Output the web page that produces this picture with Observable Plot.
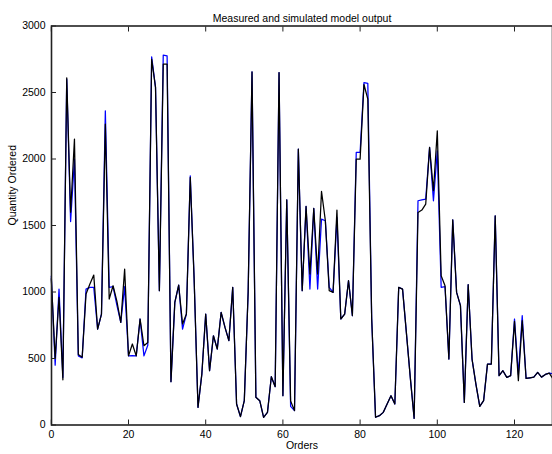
<!DOCTYPE html>
<html>
<head>
<meta charset="utf-8">
<script src="https://cdn.jsdelivr.net/npm/d3@7"></script>
<script src="https://cdn.jsdelivr.net/npm/@observablehq/plot@0.6"></script>
<style>
  html, body { margin: 0; padding: 0; background: #fff; }
  #chart { width: 552px; height: 454px; overflow: hidden; }
  svg { display: block; }
</style>
</head>
<body>
<div id="chart"></div>
<script>
const title = "Measured and simulated model output";
const xLabel = "Orders";
const yLabel = "Quantity Ordered";
const xTicks = [0, 20, 40, 60, 80, 100, 120];
const yTicks = [0, 500, 1000, 1500, 2000, 2500, 3000];

// measured output (black)
const measured = [
  1100, 500, 960, 340, 2610, 1600, 2150, 530, 510, 985,
  1060, 1127, 721, 834, 2262, 947, 1047, 930, 771, 1172,
  520, 609, 520, 797, 596, 621, 2750, 2538, 1010, 2713,
  2713, 326, 922, 1052, 759, 834, 1861, 1100, 133, 383,
  834, 408, 671, 571, 847, 734, 634, 1035, 158, 63,
  183, 1000, 2655, 208, 183, 58, 95, 363, 288, 2650,
  220, 1693, 180, 108, 2074, 1010, 1643, 1135, 1628, 1135,
  1756, 1536, 1010, 997, 1616, 797, 834, 1085, 822, 1999,
  1999, 2560, 2450, 800, 58, 70, 95, 158, 220, 158,
  1035, 1022, 691, 358, 50, 1598, 1616, 1661, 2087, 1761,
  2212, 1122, 1047, 496, 1543, 997, 897, 170, 1055, 496,
  308, 140, 183, 458, 458, 1573, 371, 408, 358, 371,
  780, 333, 784, 350, 355, 360, 395, 360, 380, 390,
  345
];

// simulated model output (blue)
const simulated = [
  1120, 450, 1022, 358, 2600, 1530, 2000, 520, 505, 1022,
  1035, 1035, 721, 834, 2362, 1035, 1040, 900, 771, 1040,
  520, 521, 520, 797, 520, 600, 2768, 2538, 1010, 2781,
  2776, 326, 922, 1052, 721, 834, 1874, 1100, 133, 383,
  834, 408, 671, 571, 847, 734, 634, 1035, 158, 63,
  183, 1000, 2655, 208, 183, 58, 95, 363, 288, 2650,
  220, 1693, 140, 108, 2074, 1010, 1643, 1022, 1628, 1022,
  1548, 1536, 1035, 997, 1560, 797, 834, 1085, 822, 2049,
  2049, 2575, 2568, 800, 58, 70, 95, 158, 220, 158,
  1035, 1022, 691, 358, 50, 1686, 1693, 1698, 2087, 1686,
  2062, 1035, 1040, 496, 1543, 997, 897, 170, 1055, 496,
  308, 140, 183, 458, 458, 1573, 371, 408, 358, 371,
  797, 380, 822, 350, 355, 360, 395, 360, 380, 390,
  385
];

const W = 552, H = 454;
const fontFamily = "'Liberation Sans', Arial, Helvetica, sans-serif";

const chart = Plot.plot({
  width: W,
  height: H,
  marginLeft: 51,
  marginRight: 0,
  marginTop: 25.5,
  marginBottom: 29.5,
  style: { fontFamily, fontSize: "10.5px", color: "#000", background: "#fff" },
  x: { domain: [0, 130], range: [50.8, 552.6] },
  y: { domain: [0, 3000] },
  marks: [
    Plot.line(simulated, { x: (d, i) => i, y: d => d, stroke: "#0000ff", strokeWidth: 1.25 }),
    Plot.line(measured, { x: (d, i) => i, y: d => d, stroke: "#000", strokeWidth: 1.25 }),
    Plot.frame({ stroke: "#222", strokeWidth: 1.6 }),
    Plot.axisX(xTicks, { anchor: "bottom", tickSize: -5, tickPadding: 11, tickFormat: d => String(d), label: null, stroke: "#222" }),
    Plot.axisX(xTicks, { anchor: "top", tickSize: -5, tickFormat: () => "", label: null, stroke: "#222" }),
    Plot.axisY(yTicks, { anchor: "left", tickSize: -5, tickPadding: 11, tickFormat: d => String(d), label: null, stroke: "#222" }),
    Plot.text([title], { frameAnchor: "top", dy: -11, text: d => d, fontSize: 10.5 }),
    Plot.text([xLabel], { frameAnchor: "bottom", dy: 24, text: d => d, fontSize: 10.5 }),
    Plot.text([yLabel], { frameAnchor: "left", dx: -39, rotate: -90, text: d => d, fontSize: 10.5 })
  ]
});
document.getElementById("chart").appendChild(chart);
</script>
</body>
</html>
